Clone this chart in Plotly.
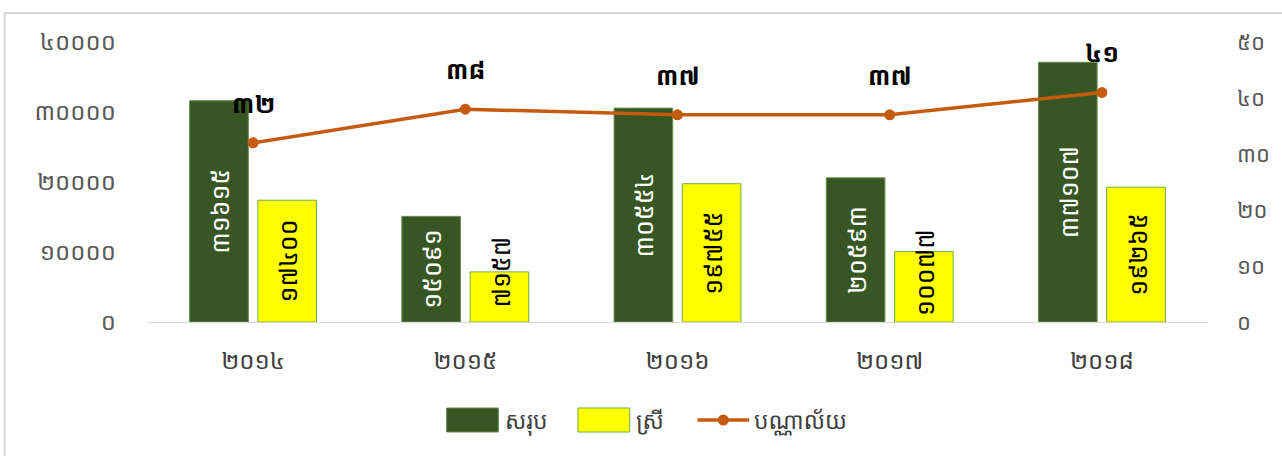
import plotly.graph_objects as go

# Library statistics by year
years = ["២០១៤", "២០១៥", "២០១៦", "២០១៧", "២០១៨"]
total_students = [31615, 15091, 30554, 20593, 37107]
female_students = [17400, 7157, 19755, 10077, 19265]
libraries = [32, 38, 37, 37, 41]

KHMER_DIGITS = "០១២៣៤៥៦៧៨៩"


def khmer(n):
    return "".join(KHMER_DIGITS[int(c)] for c in str(n))


W, H = 1282, 456
ML, MR, MT, MB = 147, 69, 42, 134
PW, PH = W - ML - MR, H - MT - MB
Y_MAX = 40000
BARGAP, BARGROUPGAP = 0.357, 0.14

FONT = "Noto Sans Khmer, Khmer OS, Noto Sans, DejaVu Sans, sans-serif"

GREEN = "#375623"
YELLOW = "#FFFF00"
ORANGE = "#C55A11"


def px(x):
    return (x - ML) / PW


def py(y):
    return (H - MB - y) / PH


fig = go.Figure()

fig.add_trace(go.Bar(
    x=years, y=total_students, name="សរុប",
    marker=dict(color=GREEN, line=dict(color="#6a8f4e", width=1)),
    text=[khmer(v) for v in total_students],
    textposition="inside", insidetextanchor="middle", textangle=-90,
    constraintext="none",
    textfont=dict(color="white", size=25, family=FONT),
))
fig.add_trace(go.Bar(
    x=years, y=female_students, name="ស្រី",
    marker=dict(color=YELLOW, line=dict(color="#70AD47", width=1)),
))
fig.add_trace(go.Scatter(
    x=years, y=libraries, name="បណ្ណាល័យ", yaxis="y2",
    mode="lines+markers",
    line=dict(color=ORANGE, width=3.5),
    marker=dict(color=ORANGE, size=11),
))

# Female labels: centred in the bar, but lifted clear of the axis when the
# bar is shorter than its label.
slot_px = PW / len(years) * (1 - BARGAP) / 2
label_half_px = 40 + 10
min_centre = label_half_px / PH * Y_MAX
for yr, v in zip(years, female_students):
    fig.add_annotation(
        x=yr, y=max(v / 2, min_centre), text=khmer(v), textangle=-90,
        showarrow=False, xshift=slot_px / 2,
        font=dict(size=25, color="black", family=FONT),
    )

# Library counts written above each point
for yr, v in zip(years, libraries):
    fig.add_annotation(
        x=yr, y=v, yref="y2", text="<b>" + khmer(v) + "</b>", showarrow=False,
        yshift=40, font=dict(size=25, color="black", family=FONT),
    )

# Chart frame (top and left edges visible)
fig.add_shape(
    type="rect", xref="paper", yref="paper",
    x0=px(4), x1=px(W + 20), y0=py(H + 20), y1=py(13),
    line=dict(color="#d9d9d9", width=2), fillcolor="rgba(0,0,0,0)",
    layer="below",
)

# Legend: wide swatches with labels beneath the chart
leg_y0, leg_y1 = py(432), py(408)
leg_mid = py(420)
fig.add_shape(type="rect", xref="paper", yref="paper",
              x0=px(448), x1=px(500), y0=leg_y0, y1=leg_y1,
              fillcolor=GREEN, line=dict(color="#6a8f4e", width=1))
fig.add_shape(type="rect", xref="paper", yref="paper",
              x0=px(580), x1=px(632), y0=leg_y0, y1=leg_y1,
              fillcolor=YELLOW, line=dict(color="#70AD47", width=1))
fig.add_shape(type="line", xref="paper", yref="paper",
              x0=px(700), x1=px(752), y0=leg_mid, y1=leg_mid,
              line=dict(color=ORANGE, width=3.5))
fig.add_shape(type="circle", xref="paper", yref="paper",
              x0=px(720.5), x1=px(731.5), y0=py(425.5), y1=py(414.5),
              fillcolor=ORANGE, line=dict(color=ORANGE, width=0))
for label, xl in [("សរុប", 505), ("ស្រី", 636), ("បណ្ណាល័យ", 755)]:
    fig.add_annotation(
        xref="paper", yref="paper", x=px(xl), y=leg_mid, text=label,
        xanchor="left", yanchor="middle", showarrow=False,
        font=dict(size=23, color="#404040", family=FONT),
    )

fig.update_layout(
    width=W, height=H,
    margin=dict(l=ML, r=MR, t=MT, b=MB),
    paper_bgcolor="white", plot_bgcolor="white",
    barmode="group", bargap=BARGAP, bargroupgap=BARGROUPGAP,
    font=dict(family=FONT, color="#595959"),
    showlegend=False,
    xaxis=dict(
        showgrid=False, showline=True, linecolor="#d9d9d9", linewidth=1,
        ticks="", tickfont=dict(size=24, color="#404040"),
        ticklabelstandoff=17,
    ),
    yaxis=dict(
        range=[0, Y_MAX], tickvals=[0, 10000, 20000, 30000, 40000],
        ticktext=[khmer(v) for v in [0, 10000, 20000, 30000, 40000]],
        showgrid=False, zeroline=False, showline=False,
        tickfont=dict(size=24, color="#595959"), ticklabelstandoff=30,
    ),
    yaxis2=dict(
        range=[0, 50], tickvals=[0, 10, 20, 30, 40, 50],
        ticktext=[khmer(v) for v in [0, 10, 20, 30, 40, 50]],
        overlaying="y", side="right", showgrid=False, zeroline=False,
        showline=False, tickfont=dict(size=22, color="#595959"),
        ticklabelstandoff=28,
    ),
)

fig.write_html("out.html")
